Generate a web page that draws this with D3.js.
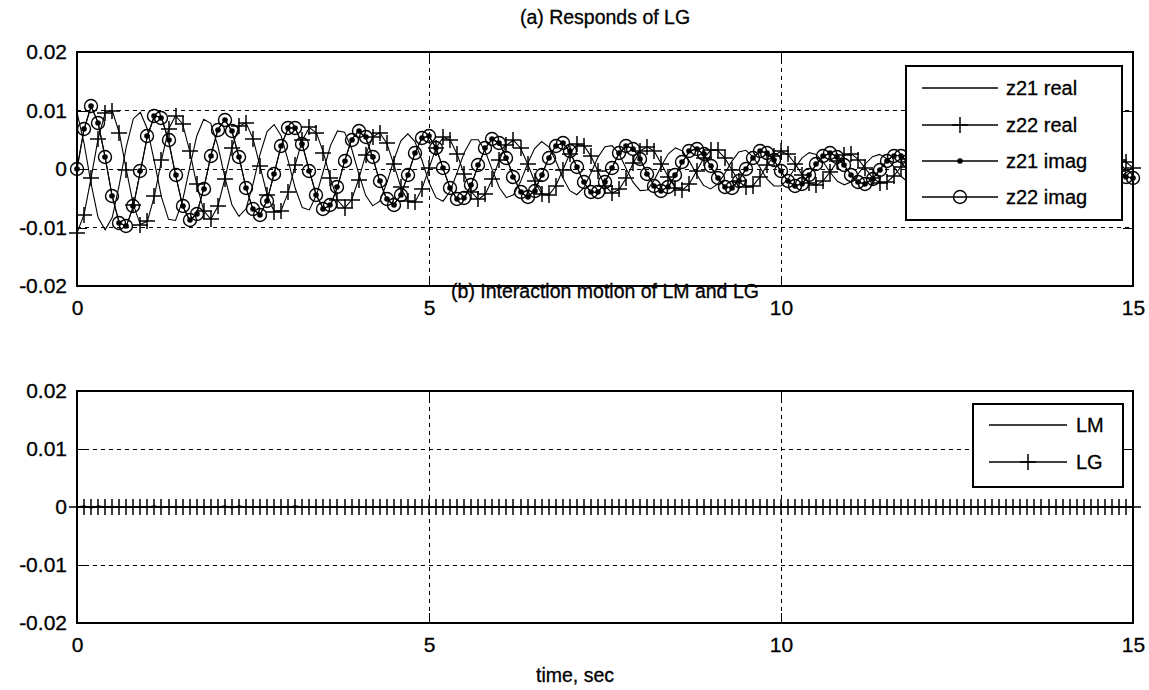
<!DOCTYPE html>
<html>
<head>
<meta charset="utf-8">
<script src="https://cdn.jsdelivr.net/npm/d3@7"></script>
<style>
  html, body { margin: 0; padding: 0; background: #fff; }
  svg { display: block; font-family: "Liberation Sans", Arial, sans-serif; }
</style>
</head>
<body>
<div class="chart"></div>
<script>
// #region Data
const time = [
  0, 0.1, 0.2, 0.3, 0.4, 0.5, 0.6, 0.7, 0.8, 0.9,
  1, 1.1, 1.2, 1.3, 1.4, 1.5, 1.6, 1.7, 1.8, 1.9,
  2, 2.1, 2.2, 2.3, 2.4, 2.5, 2.6, 2.7, 2.8, 2.9,
  3, 3.1, 3.2, 3.3, 3.4, 3.5, 3.6, 3.7, 3.8, 3.9,
  4, 4.1, 4.2, 4.3, 4.4, 4.5, 4.6, 4.7, 4.8, 4.9,
  5, 5.1, 5.2, 5.3, 5.4, 5.5, 5.6, 5.7, 5.8, 5.9,
  6, 6.1, 6.2, 6.3, 6.4, 6.5, 6.6, 6.7, 6.8, 6.9,
  7, 7.1, 7.2, 7.3, 7.4, 7.5, 7.6, 7.7, 7.8, 7.9,
  8, 8.1, 8.2, 8.3, 8.4, 8.5, 8.6, 8.7, 8.8, 8.9,
  9, 9.1, 9.2, 9.3, 9.4, 9.5, 9.6, 9.7, 9.8, 9.9,
  10, 10.1, 10.2, 10.3, 10.4, 10.5, 10.6, 10.7, 10.8, 10.9,
  11, 11.1, 11.2, 11.3, 11.4, 11.5, 11.6, 11.7, 11.8, 11.9,
  12, 12.1, 12.2, 12.3, 12.4, 12.5, 12.6, 12.7, 12.8, 12.9,
  13, 13.1, 13.2, 13.3, 13.4, 13.5, 13.6, 13.7, 13.8, 13.9,
  14, 14.1, 14.2, 14.3, 14.4, 14.5, 14.6, 14.7, 14.8, 14.9,
  15
];

const z21Real = [
  0.0097, 0.0044, -0.0025, -0.0083, -0.0104, -0.0083, -0.0027, 0.0038, 0.0086, 0.0097,
  0.0068, 0.0012, -0.0048, -0.0086, -0.0088, -0.0054, 0.0002, 0.0056, 0.0085, 0.0078,
  0.0040, -0.0014, -0.0061, -0.0081, -0.0068, -0.0026, 0.0025, 0.0064, 0.0076, 0.0057,
  0.0014, -0.0033, -0.0066, -0.0070, -0.0045, -0.0003, 0.0040, 0.0065, 0.0063, 0.0035,
  -0.0007, -0.0045, -0.0063, -0.0055, -0.0024, 0.0015, 0.0048, 0.0060, 0.0047, 0.0015,
  -0.0023, -0.0049, -0.0055, -0.0038, -0.0006, 0.0028, 0.0050, 0.0050, 0.0030, -0.0002,
  -0.0032, -0.0049, -0.0044, -0.0022, 0.0009, 0.0035, 0.0047, 0.0038, 0.0014, -0.0015,
  -0.0037, -0.0044, -0.0032, -0.0007, 0.0020, 0.0038, 0.0040, 0.0026, 0.0001, -0.0023,
  -0.0037, -0.0036, -0.0019, 0.0005, 0.0026, 0.0036, 0.0031, 0.0013, -0.0009, -0.0028,
  -0.0034, -0.0026, -0.0008, 0.0013, 0.0029, 0.0032, 0.0021, 0.0003, -0.0017, -0.0029,
  -0.0029, -0.0017, 0.0002, 0.0019, 0.0028, 0.0025, 0.0012, -0.0006, -0.0021, -0.0027,
  -0.0022, -0.0008, 0.0009, 0.0021, 0.0025, 0.0018, 0.0004, -0.0012, -0.0022, -0.0023,
  -0.0014, 0.0000, 0.0014, 0.0021, 0.0020, 0.0011, -0.0003, -0.0015, -0.0021, -0.0018,
  -0.0007, 0.0006, 0.0016, 0.0020, 0.0015, 0.0004, -0.0008, -0.0016, -0.0018, -0.0012,
  -0.0001, 0.0010, 0.0016, 0.0016, 0.0009, -0.0001, -0.0011, -0.0016, -0.0014, -0.0007,
  0.0003
];

const z22Real = [
  -0.0109, -0.0078, -0.0015, 0.0052, 0.0096, 0.0100, 0.0062, -0.0001, -0.0061, -0.0095,
  -0.0089, -0.0046, 0.0015, 0.0068, 0.0091, 0.0077, 0.0031, -0.0026, -0.0071, -0.0086,
  -0.0064, -0.0017, 0.0036, 0.0073, 0.0079, 0.0052, 0.0005, -0.0044, -0.0073, -0.0071,
  -0.0040, 0.0007, 0.0049, 0.0071, 0.0062, 0.0028, -0.0016, -0.0053, -0.0067, -0.0053,
  -0.0018, 0.0024, 0.0055, 0.0062, 0.0044, 0.0008, -0.0031, -0.0055, -0.0057, -0.0034,
  0.0001, 0.0036, 0.0054, 0.0050, 0.0025, -0.0009, -0.0039, -0.0052, -0.0043, -0.0017,
  0.0016, 0.0041, 0.0049, 0.0036, 0.0009, -0.0021, -0.0042, -0.0045, -0.0029, -0.0002,
  0.0026, 0.0042, 0.0040, 0.0022, -0.0004, -0.0029, -0.0041, -0.0035, -0.0016, 0.0010,
  0.0031, 0.0038, 0.0030, 0.0009, -0.0014, -0.0032, -0.0036, -0.0025, -0.0004, 0.0018,
  0.0032, 0.0032, 0.0019, -0.0001, -0.0021, -0.0031, -0.0029, -0.0014, 0.0006, 0.0023,
  0.0030, 0.0025, 0.0009, -0.0010, -0.0024, -0.0028, -0.0020, -0.0005, 0.0013, 0.0024,
  0.0026, 0.0016, 0.0001, -0.0015, -0.0024, -0.0023, -0.0012, 0.0003, 0.0017, 0.0023,
  0.0020, 0.0009, -0.0006, -0.0018, -0.0022, -0.0017, -0.0005, 0.0009, 0.0018, 0.0020,
  0.0014, 0.0002, -0.0011, -0.0018, -0.0018, -0.0011, 0.0001, 0.0012, 0.0018, 0.0016,
  0.0008, -0.0004, -0.0013, -0.0017, -0.0014, -0.0005, 0.0006, 0.0014, 0.0016, 0.0012,
  0.0002
];

const z21Imag = [
  0, 0.0068, 0.0107, 0.0079, 0.0020, -0.0047, -0.0092, -0.0098, -0.0064, -0.0004,
  0.0056, 0.0091, 0.0088, 0.0049, -0.0010, -0.0063, -0.0088, -0.0077, -0.0034, 0.0022,
  0.0067, 0.0084, 0.0065, 0.0021, -0.0032, -0.0069, -0.0078, -0.0054, -0.0008, 0.0040,
  0.0070, 0.0070, 0.0042, -0.0003, -0.0045, -0.0068, -0.0062, -0.0031, 0.0013, 0.0050,
  0.0065, 0.0054, 0.0020, -0.0021, -0.0052, -0.0061, -0.0045, -0.0010, 0.0027, 0.0053,
  0.0056, 0.0036, 0.0001, -0.0033, -0.0052, -0.0050, -0.0027, 0.0006, 0.0036, 0.0051,
  0.0044, 0.0019, -0.0013, -0.0039, -0.0048, -0.0037, -0.0011, 0.0019, 0.0040, 0.0044,
  0.0030, 0.0004, -0.0023, -0.0040, -0.0040, -0.0023, 0.0002, 0.0027, 0.0039, 0.0035,
  0.0017, -0.0008, -0.0029, -0.0037, -0.0030, -0.0011, 0.0012, 0.0030, 0.0035, 0.0025,
  0.0005, -0.0016, -0.0030, -0.0032, -0.0020, 0.0000, 0.0019, 0.0030, 0.0028, 0.0015,
  -0.0004, -0.0021, -0.0029, -0.0025, -0.0010, 0.0008, 0.0022, 0.0027, 0.0021, 0.0006,
  -0.0011, -0.0023, -0.0025, -0.0017, -0.0002, 0.0014, 0.0023, 0.0023, 0.0013, -0.0002,
  -0.0015, -0.0022, -0.0020, -0.0009, 0.0005, 0.0017, 0.0021, 0.0017, 0.0006, -0.0007,
  -0.0017, -0.0020, -0.0014, -0.0003, 0.0010, 0.0018, 0.0018, 0.0011, 0.0000, -0.0011,
  -0.0017, -0.0016, -0.0008, 0.0003, 0.0012, 0.0017, 0.0014, 0.0006, -0.0005, -0.0013,
  -0.0016
];

const z22Imag = [
  0, 0.0068, 0.0107, 0.0079, 0.0020, -0.0047, -0.0092, -0.0098, -0.0064, -0.0004,
  0.0056, 0.0091, 0.0088, 0.0049, -0.0010, -0.0063, -0.0088, -0.0077, -0.0034, 0.0022,
  0.0067, 0.0084, 0.0065, 0.0021, -0.0032, -0.0069, -0.0078, -0.0054, -0.0008, 0.0040,
  0.0070, 0.0070, 0.0042, -0.0003, -0.0045, -0.0068, -0.0062, -0.0031, 0.0013, 0.0050,
  0.0065, 0.0054, 0.0020, -0.0021, -0.0052, -0.0061, -0.0045, -0.0010, 0.0027, 0.0053,
  0.0056, 0.0036, 0.0001, -0.0033, -0.0052, -0.0050, -0.0027, 0.0006, 0.0036, 0.0051,
  0.0044, 0.0019, -0.0013, -0.0039, -0.0048, -0.0037, -0.0011, 0.0019, 0.0040, 0.0044,
  0.0030, 0.0004, -0.0023, -0.0040, -0.0040, -0.0023, 0.0002, 0.0027, 0.0039, 0.0035,
  0.0017, -0.0008, -0.0029, -0.0037, -0.0030, -0.0011, 0.0012, 0.0030, 0.0035, 0.0025,
  0.0005, -0.0016, -0.0030, -0.0032, -0.0020, 0.0000, 0.0019, 0.0030, 0.0028, 0.0015,
  -0.0004, -0.0021, -0.0029, -0.0025, -0.0010, 0.0008, 0.0022, 0.0027, 0.0021, 0.0006,
  -0.0011, -0.0023, -0.0025, -0.0017, -0.0002, 0.0014, 0.0023, 0.0023, 0.0013, -0.0002,
  -0.0015, -0.0022, -0.0020, -0.0009, 0.0005, 0.0017, 0.0021, 0.0017, 0.0006, -0.0007,
  -0.0017, -0.0020, -0.0014, -0.0003, 0.0010, 0.0018, 0.0018, 0.0011, 0.0000, -0.0011,
  -0.0017, -0.0016, -0.0008, 0.0003, 0.0012, 0.0017, 0.0014, 0.0006, -0.0005, -0.0013,
  -0.0016
];

const lmMotion = [
  0, 0.0002, -0.0002, 0.0002, 0, 0, 0, 0, 0, 0,
  0, 0.0002, -0.0001, 0, 0, 0, 0, 0, 0, 0,
  0, 0.0002, -0.0002, 0.0002, 0, 0, 0, 0, 0, 0,
  0, 0.0002, 0, 0, 0, 0, 0, 0, 0, 0,
  0, 0, 0, 0, 0, 0, 0, 0, 0, 0,
  0, 0, 0, 0, 0, 0, 0, 0, 0, 0,
  0, 0, 0, 0, 0, 0, 0, 0, 0, 0,
  0, 0, 0, 0, 0, 0, 0, 0, 0, 0,
  0, 0, 0, 0, 0, 0, 0, 0, 0, 0,
  0, 0, 0, 0, 0, 0, 0, 0, 0, 0,
  0, 0, 0, 0, 0, 0, 0, 0, 0, 0,
  0, 0, 0, 0, 0, 0, 0, 0, 0, 0,
  0, 0, 0, 0, 0, 0, 0, 0, 0, 0,
  0, 0, 0, 0, 0, 0, 0, 0, 0, 0,
  0, 0, 0, 0, 0, 0, 0, 0, 0, 0,
  0
];

const lgMotion = [
  0, 0, 0, 0, 0, 0, 0, 0, 0, 0,
  0, 0, 0, 0, 0, 0, 0, 0, 0, 0,
  0, 0, 0, 0, 0, 0, 0, 0, 0, 0,
  0, 0, 0, 0, 0, 0, 0, 0, 0, 0,
  0, 0, 0, 0, 0, 0, 0, 0, 0, 0,
  0, 0, 0, 0, 0, 0, 0, 0, 0, 0,
  0, 0, 0, 0, 0, 0, 0, 0, 0, 0,
  0, 0, 0, 0, 0, 0, 0, 0, 0, 0,
  0, 0, 0, 0, 0, 0, 0, 0, 0, 0,
  0, 0, 0, 0, 0, 0, 0, 0, 0, 0,
  0, 0, 0, 0, 0, 0, 0, 0, 0, 0,
  0, 0, 0, 0, 0, 0, 0, 0, 0, 0,
  0, 0, 0, 0, 0, 0, 0, 0, 0, 0,
  0, 0, 0, 0, 0, 0, 0, 0, 0, 0,
  0, 0, 0, 0, 0, 0, 0, 0, 0, 0,
  0
];

const xTicks = [0, 5, 10, 15];
const yTicks = [-0.02, -0.01, 0, 0.01, 0.02];
const yTickLabels = ['-0.02', '-0.01', '0', '0.01', '0.02'];
// #endregion

// #region Main SVG
const width = 1149, height = 690;
const tickFont = 21, textFont = 19.5;
const svg = d3.select('.chart').append('svg')
  .attr('width', width)
  .attr('height', height);

const xScale = d3.scaleLinear().domain([0, 15]).range([77, 1133]);

const panels = [
  {
    top: 52, bottom: 286, title: '(a) Responds of LG', titleY: 24,
    series: [
      { name: 'z21 real', values: z21Real, marker: 'none' },
      { name: 'z22 real', values: z22Real, marker: 'plus' },
      { name: 'z21 imag', values: z21Imag, marker: 'dot' },
      { name: 'z22 imag', values: z22Imag, marker: 'circle' }
    ],
    legend: { x: 906, y: 66, w: 216, h: 154, rowY: [88, 125, 161, 197], lineX: [922, 998], textX: 1006 }
  },
  {
    top: 391, bottom: 623, title: '(b) Interaction motion of LM and LG', titleY: 298,
    series: [
      { name: 'LM', values: lmMotion, marker: 'none' },
      { name: 'LG', values: lgMotion, marker: 'plus' }
    ],
    legend: { x: 973, y: 404, w: 150, h: 83, rowY: [425, 462], lineX: [989, 1067], textX: 1076 }
  }
];
// #endregion

// #region Markers
function drawMarker(g, type, cx, cy) {
  cx = Math.round(cx);
  cy = Math.round(cy);
  if (type === 'plus') {
    g.append('path')
      .attr('d', 'M' + (cx - 8) + ',' + cy + 'H' + (cx + 8) + 'M' + cx + ',' + (cy - 8) + 'V' + (cy + 8))
      .attr('stroke', '#000').attr('stroke-width', 1.5).attr('fill', 'none');
  } else if (type === 'circle') {
    g.append('circle').attr('cx', cx).attr('cy', cy).attr('r', 6.5)
      .attr('stroke', '#000').attr('stroke-width', 1.4).attr('fill', 'none');
  } else if (type === 'dot') {
    g.append('circle').attr('cx', cx).attr('cy', cy).attr('r', 2.8).attr('fill', '#000');
  }
}
// #endregion

// #region Draw Panels
panels.forEach(p => {
  const yScale = d3.scaleLinear().domain([-0.02, 0.02]).range([p.bottom, p.top]);
  const x0 = xScale.range()[0], x1 = xScale.range()[1];
  const g = svg.append('g').attr('class', 'panel');

  // grid
  const gGrid = g.append('g').attr('class', 'grid')
    .attr('stroke', '#000').attr('stroke-width', 1).attr('stroke-dasharray', '4,4')
    .attr('shape-rendering', 'crispEdges');
  gGrid.selectAll('.gx').data(xTicks.slice(1, -1)).enter().append('line')
    .attr('x1', d => xScale(d)).attr('x2', d => xScale(d))
    .attr('y1', p.top).attr('y2', p.bottom);
  gGrid.selectAll('.gy').data(yTicks.slice(1, -1)).enter().append('line')
    .attr('x1', x0).attr('x2', x1)
    .attr('y1', d => yScale(d)).attr('y2', d => yScale(d));

  // axes (ticks inward on all four sides)
  const styleAxis = sel => {
    sel.attr('font-family', '"Liberation Sans", Arial, sans-serif')
      .attr('font-size', tickFont)
      .style('color', '#000');
    sel.select('.domain').remove();
    sel.selectAll('line').attr('shape-rendering', 'crispEdges');
    sel.selectAll('text').attr('stroke', '#000').attr('stroke-width', 0.3);
  };
  g.append('g').attr('transform', 'translate(' + x0 + ',0)')
    .call(d3.axisLeft(yScale).tickValues(yTicks).tickSize(-10).tickPadding(10)
      .tickFormat((d, i) => yTickLabels[i]))
    .call(styleAxis);
  g.append('g').attr('transform', 'translate(' + x1 + ',0)')
    .call(d3.axisRight(yScale).tickValues(yTicks).tickSize(-10).tickFormat(''))
    .call(styleAxis);
  g.append('g').attr('transform', 'translate(0,' + p.bottom + ')')
    .call(d3.axisBottom(xScale).tickValues(xTicks).tickSize(-10).tickPadding(14))
    .call(styleAxis);
  g.append('g').attr('transform', 'translate(0,' + p.top + ')')
    .call(d3.axisTop(xScale).tickValues(xTicks).tickSize(-10).tickFormat(''))
    .call(styleAxis);

  // box
  g.append('rect')
    .attr('x', x0).attr('y', p.top)
    .attr('width', x1 - x0).attr('height', p.bottom - p.top)
    .attr('fill', 'none').attr('stroke', '#000').attr('stroke-width', 1.5)
    .attr('shape-rendering', 'crispEdges');

  // series
  const line = d3.line().x(d => xScale(d.t)).y(d => yScale(d.v));
  p.series.forEach(s => {
    const pts = time.map((t, i) => ({ t: t, v: s.values[i] }));
    const gS = g.append('g').attr('class', 'series');
    gS.append('path').datum(pts)
      .attr('d', line)
      .attr('fill', 'none').attr('stroke', '#000').attr('stroke-width', 1.1);
    if (s.marker !== 'none') {
      pts.forEach(d => drawMarker(gS, s.marker, xScale(d.t), yScale(d.v)));
    }
  });

  // title
  g.append('text')
    .attr('x', (x0 + x1) / 2).attr('y', p.titleY)
    .attr('text-anchor', 'middle')
    .attr('font-size', textFont)
    .attr('stroke', '#000').attr('stroke-width', 0.3)
    .text(p.title);

  // legend
  const L = p.legend;
  const gL = g.append('g').attr('class', 'legend');
  gL.append('rect')
    .attr('x', L.x).attr('y', L.y).attr('width', L.w).attr('height', L.h)
    .attr('fill', '#fff').attr('stroke', '#000').attr('stroke-width', 1.5)
    .attr('shape-rendering', 'crispEdges');
  p.series.forEach((s, i) => {
    const ry = L.rowY[i];
    gL.append('line')
      .attr('x1', L.lineX[0]).attr('x2', L.lineX[1])
      .attr('y1', ry).attr('y2', ry)
      .attr('stroke', '#000').attr('stroke-width', 1.5);
    drawMarker(gL, s.marker, (L.lineX[0] + L.lineX[1]) / 2, ry);
    gL.append('text')
      .attr('x', L.textX).attr('y', ry + 7)
      .attr('font-size', textFont + 0.5)
      .attr('stroke', '#000').attr('stroke-width', 0.3)
      .text(s.name);
  });
});

svg.append('text')
  .attr('x', 575).attr('y', 682)
  .attr('text-anchor', 'middle')
  .attr('font-size', textFont)
  .attr('stroke', '#000').attr('stroke-width', 0.3)
  .text('time, sec');
// #endregion
</script>
</body>
</html>
